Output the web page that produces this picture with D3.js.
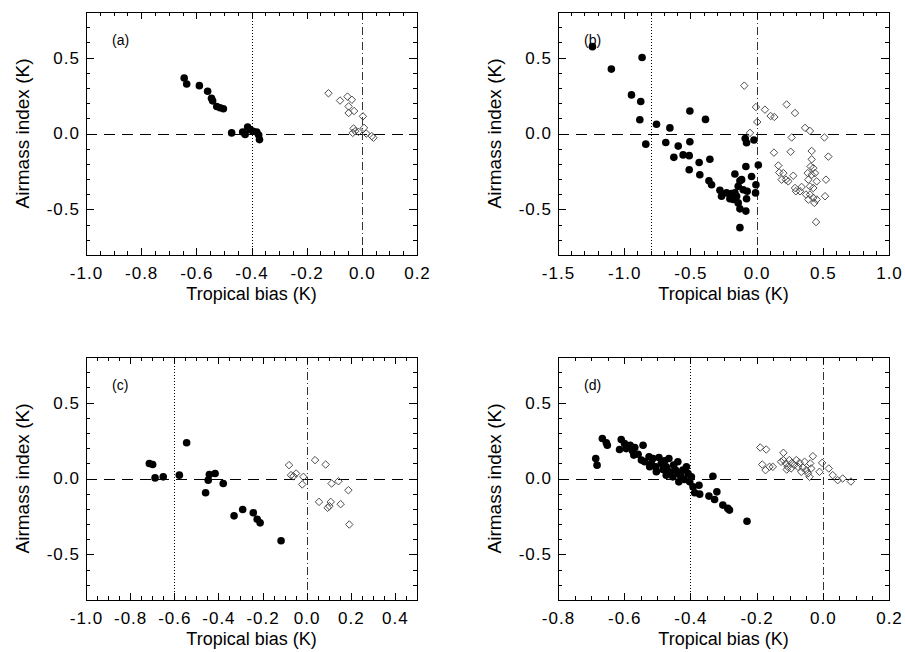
<!DOCTYPE html>
<html>
<head>
<meta charset="utf-8">
<script src="https://cdn.jsdelivr.net/npm/d3@7"></script>
<style>
  body { margin: 0; background: #fff; }
  text { font-family: "Liberation Sans", Arial, Helvetica, sans-serif; fill: #000; }
</style>
</head>
<body>
<div id="chart"></div>
<script>
// ---- data: [tropical bias, airmass index] ----
var aFilled = [[-0.644,0.365],[-0.635,0.326],[-0.589,0.315],[-0.559,0.278],[-0.545,0.232],[-0.541,0.215],
  [-0.526,0.178],[-0.514,0.170],[-0.502,0.163],[-0.472,0.004],[-0.432,0.010],[-0.423,-0.007],
  [-0.414,0.043],[-0.405,0.026],[-0.395,0.015],[-0.381,0.010],[-0.374,-0.010],[-0.371,-0.040]];
var aOpen = [[-0.121,0.265],[-0.079,0.217],[-0.052,0.243],[-0.036,0.222],[-0.048,0.178],[-0.048,0.135],
  [-0.028,0.148],[0.004,0.113],[-0.030,0.033],[-0.033,0.004],[-0.024,0.015],[-0.012,0.011],
  [0.008,0.037],[0.016,0.000],[0.036,-0.017],[0.042,-0.028]];

var bFilled = [[-1.240,0.572],[-1.097,0.424],[-0.865,0.500],[-0.945,0.254],[-0.875,0.211],[-0.882,0.091],
  [-0.837,-0.070],[-0.756,0.061],[-0.655,0.037],[-0.686,-0.059],[-0.592,-0.083],[-0.625,-0.157],
  [-0.555,-0.141],[-0.509,-0.146],[-0.504,0.148],[-0.504,-0.054],[-0.509,-0.239],[-0.386,0.093],
  [-0.434,-0.191],[-0.429,-0.272],[-0.353,-0.170],[-0.360,-0.311],[-0.340,-0.337],[-0.277,-0.374],
  [-0.265,-0.413],[-0.227,-0.391],[-0.202,-0.430],[-0.176,-0.435],[-0.164,-0.391],[-0.139,-0.457],
  [-0.126,-0.496],[-0.126,-0.620],[-0.164,-0.267],[-0.126,-0.311],[-0.139,-0.348],[-0.101,-0.370],
  [-0.151,-0.413],[-0.086,-0.033],[-0.076,-0.061],[-0.081,-0.217],[-0.081,-0.511],[-0.076,-0.430],
  [-0.071,-0.380],[-0.038,-0.283],[-0.020,-0.043],[-0.005,-0.337],[-0.008,-0.391],[0.013,-0.207],
  [-0.113,-0.304],[-0.189,-0.396]];
var bOpen = [[-0.093,0.315],[-0.005,0.174],[0.063,0.157],[0.106,0.115],[0.134,0.109],[0.005,0.076],
  [-0.050,0.004],[0.227,0.191],[0.290,0.135],[0.265,-0.026],[0.131,-0.126],[0.257,-0.120],
  [0.366,0.037],[0.403,0.017],[0.512,-0.026],[0.542,-0.152],[0.416,-0.115],[0.416,-0.170],
  [0.408,-0.217],[0.428,-0.228],[0.164,-0.211],[0.171,-0.257],[0.202,-0.261],[0.189,-0.304],
  [0.239,-0.315],[0.277,-0.278],[0.290,-0.359],[0.340,-0.352],[0.328,-0.380],[0.297,-0.380],
  [0.391,-0.304],[0.403,-0.348],[0.428,-0.359],[0.454,-0.315],[0.524,-0.304],[0.517,-0.413],
  [0.454,-0.435],[0.428,-0.424],[0.391,-0.435],[0.373,-0.402],[0.436,-0.457],[0.449,-0.583],
  [0.403,-0.402],[0.386,-0.261],[0.416,-0.272],[0.441,-0.261],[0.222,-0.304]];

var cFilled = [[-0.713,0.099],[-0.698,0.092],[-0.687,0.004],[-0.650,0.011],[-0.577,0.022],[-0.544,0.235],
  [-0.458,-0.094],[-0.446,-0.011],[-0.441,0.026],[-0.415,0.033],[-0.378,-0.033],[-0.329,-0.246],
  [-0.290,-0.204],[-0.242,-0.226],[-0.224,-0.268],[-0.211,-0.292],[-0.116,-0.410]];
var cOpen = [[-0.080,0.088],[-0.071,0.022],[-0.060,0.015],[-0.048,0.033],[-0.020,-0.039],[-0.015,0.011],
  [0.038,0.121],[0.086,0.092],[0.113,-0.033],[0.144,-0.018],[0.189,-0.077],[0.056,-0.154],
  [0.109,-0.154],[0.095,-0.193],[0.103,-0.182],[0.154,-0.169],[0.193,-0.303]];

var dFilled = [[-0.686,0.132],[-0.682,0.088],[-0.666,0.263],[-0.654,0.235],[-0.651,0.219],[-0.609,0.257],
  [-0.614,0.191],[-0.599,0.230],[-0.594,0.197],[-0.582,0.219],[-0.575,0.182],[-0.568,0.204],
  [-0.571,0.154],[-0.558,0.160],[-0.543,0.219],[-0.548,0.121],[-0.538,0.110],[-0.525,0.143],
  [-0.518,0.099],[-0.513,0.132],[-0.505,0.077],[-0.503,0.044],[-0.495,0.138],[-0.488,0.099],
  [-0.483,0.059],[-0.478,0.116],[-0.473,0.077],[-0.465,0.132],[-0.463,0.044],[-0.453,0.011],
  [-0.451,0.088],[-0.445,0.055],[-0.438,0.110],[-0.435,0.029],[-0.428,0.011],[-0.423,0.055],
  [-0.418,-0.007],[-0.412,0.077],[-0.407,0.033],[-0.402,-0.022],[-0.397,0.011],[-0.392,-0.055],
  [-0.387,-0.094],[-0.374,-0.044],[-0.372,-0.103],[-0.344,-0.116],[-0.332,0.015],[-0.327,-0.138],
  [-0.320,-0.088],[-0.302,-0.175],[-0.287,-0.197],[-0.282,-0.208],[-0.229,-0.281],[-0.435,-0.022],
  [-0.473,0.022],[-0.523,0.077]];
var dOpen = [[-0.189,0.204],[-0.171,0.191],[-0.183,0.092],[-0.173,0.055],[-0.161,0.077],[-0.151,0.077],
  [-0.119,0.169],[-0.119,0.121],[-0.111,0.099],[-0.106,0.077],[-0.101,0.121],[-0.093,0.103],
  [-0.086,0.088],[-0.080,0.121],[-0.075,0.077],[-0.070,0.103],[-0.060,0.072],[-0.055,0.110],
  [-0.050,0.055],[-0.045,0.033],[-0.040,0.011],[-0.035,0.066],[-0.030,0.147],[-0.038,0.099],
  [-0.002,0.103],[-0.010,0.044],[0.018,0.066],[0.030,0.022],[0.045,-0.011],[-0.109,0.059],
  [-0.065,0.044],[-0.096,0.066],[-0.126,0.110],[0.060,0.000],[0.085,-0.020]];

// axis ranges and tick labels
var yTicks = [-0.5, 0.0, 0.5];
var yMinor = [-0.8,-0.7,-0.6,-0.4,-0.3,-0.2,-0.1,0.1,0.2,0.3,0.4,0.6,0.7,0.8];
var aTicks = [-1.0,-0.8,-0.6,-0.4,-0.2,0.0,0.2];
var bTicks = [-1.5,-1.0,-0.5,0.0,0.5,1.0];
var cTicks = [-1.0,-0.8,-0.6,-0.4,-0.2,0.0,0.2,0.4];
var dTicks = [-0.8,-0.6,-0.4,-0.2,0.0,0.2];

var W = 331, H = 243;
var fmt = function(d) { return (Math.round(d * 10) / 10).toFixed(1); };

var panels = [
  {label: "(a)", left: 86, top: 12, xDomain: [-1.0, 0.2], ticks: aTicks, minorStep: 0.05, vline: -0.4, filled: aFilled, open: aOpen},
  {label: "(b)", left: 558, top: 12, xDomain: [-1.5, 1.0], ticks: bTicks, minorStep: 0.1, vline: -0.8, filled: bFilled, open: bOpen},
  {label: "(c)", left: 86, top: 357, xDomain: [-1.0, 0.5], ticks: cTicks, minorStep: 0.05, vline: -0.6, filled: cFilled, open: cOpen},
  {label: "(d)", left: 558, top: 357, xDomain: [-0.8, 0.2], ticks: dTicks, minorStep: 0.05, vline: -0.4, filled: dFilled, open: dOpen}
];

var svg = d3.select("#chart")
  .append("svg")
    .attr("width", 905)
    .attr("height", 652);

panels.forEach(function(p) {
  var g = svg.append("g")
    .attr("transform", "translate(" + p.left + "," + p.top + ")");

  var x = d3.scaleLinear().domain(p.xDomain).range([0, W]);
  var y = d3.scaleLinear().domain([-0.8, 0.8]).range([H, 0]);

  // minor tick positions between the labelled ones
  var n = Math.round((p.xDomain[1] - p.xDomain[0]) / p.minorStep);
  var xMinor = d3.range(n + 1).map(function(i) { return p.xDomain[0] + i * p.minorStep; })
    .filter(function(v) { return !p.ticks.some(function(t) { return Math.abs(t - v) < 1e-6; }); });

  // reference lines
  g.append("line")
    .attr("x1", 0).attr("x2", W)
    .attr("y1", Math.round(y(0)) + 0.5).attr("y2", Math.round(y(0)) + 0.5)
    .attr("stroke", "#000").attr("stroke-dasharray", "11,7");
  g.append("line")
    .attr("x1", Math.round(x(p.vline)) + 0.5).attr("x2", Math.round(x(p.vline)) + 0.5)
    .attr("y1", 0).attr("y2", H)
    .attr("stroke", "#000").attr("stroke-dasharray", "1,2");
  g.append("line")
    .attr("x1", Math.round(x(0)) + 0.5).attr("x2", Math.round(x(0)) + 0.5)
    .attr("y1", 0).attr("y2", H)
    .attr("stroke", "#333").attr("stroke-dasharray", "8,3,1,3");

  // points
  g.selectAll(".open")
    .data(p.open)
    .enter()
    .append("path")
      .attr("class", "open")
      .attr("d", d3.symbol().type(d3.symbolSquare).size(28))
      .attr("transform", function(d) { return "translate(" + x(d[0]) + "," + y(d[1]) + ") rotate(45)"; })
      .attr("fill", "none")
      .attr("stroke", "#444")
      .attr("stroke-width", 0.9);

  g.selectAll(".filled")
    .data(p.filled)
    .enter()
    .append("circle")
      .attr("class", "filled")
      .attr("cx", function(d) { return x(d[0]); })
      .attr("cy", function(d) { return y(d[1]); })
      .attr("r", 3.8)
      .attr("fill", "#000");

  // axes, ticks pointing inward on all four sides
  function addAxis(axis, transform, labels) {
    var a = g.append("g").attr("transform", transform).call(axis);
    a.select(".domain").remove();
    a.selectAll("line").attr("stroke", "#000").attr("shape-rendering", "crispEdges");
    if (labels) {
      a.selectAll("text").attr("font-size", 17).attr("letter-spacing", 1);
    }
    return a;
  }

  addAxis(d3.axisBottom(x).tickValues(p.ticks).tickSize(-7).tickPadding(12).tickFormat(fmt), "translate(0," + H + ")", true);
  addAxis(d3.axisBottom(x).tickValues(xMinor).tickSize(-4).tickFormat(""), "translate(0," + H + ")", false);
  addAxis(d3.axisTop(x).tickValues(p.ticks).tickSize(-7).tickFormat(""), "translate(0,0)", false);
  addAxis(d3.axisTop(x).tickValues(xMinor).tickSize(-4).tickFormat(""), "translate(0,0)", false);

  addAxis(d3.axisLeft(y).tickValues(yTicks).tickSize(-8).tickPadding(6).tickFormat(fmt), "translate(0,0)", true);
  addAxis(d3.axisLeft(y).tickValues(yMinor).tickSize(-4).tickFormat(""), "translate(0,0)", false);
  addAxis(d3.axisRight(y).tickValues(yTicks).tickSize(-8).tickFormat(""), "translate(" + W + ",0)", false);
  addAxis(d3.axisRight(y).tickValues(yMinor).tickSize(-4).tickFormat(""), "translate(" + W + ",0)", false);

  // frame
  g.append("rect")
    .attr("x", 0.5).attr("y", 0.5)
    .attr("width", W).attr("height", H)
    .attr("fill", "none").attr("stroke", "#000")
    .attr("shape-rendering", "crispEdges");

  // panel label
  g.append("text")
    .attr("x", 26).attr("y", 33)
    .attr("font-size", 14)
    .text(p.label);

  // axis titles
  g.append("text")
    .attr("x", W / 2).attr("y", H + 45)
    .attr("text-anchor", "middle")
    .attr("font-size", 18)
    .text("Tropical bias (K)");
  g.append("text")
    .attr("transform", "translate(-57," + (H / 2) + ") rotate(-90)")
    .attr("text-anchor", "middle")
    .attr("font-size", 19)
    .text("Airmass index (K)");
});
</script>
</body>
</html>
